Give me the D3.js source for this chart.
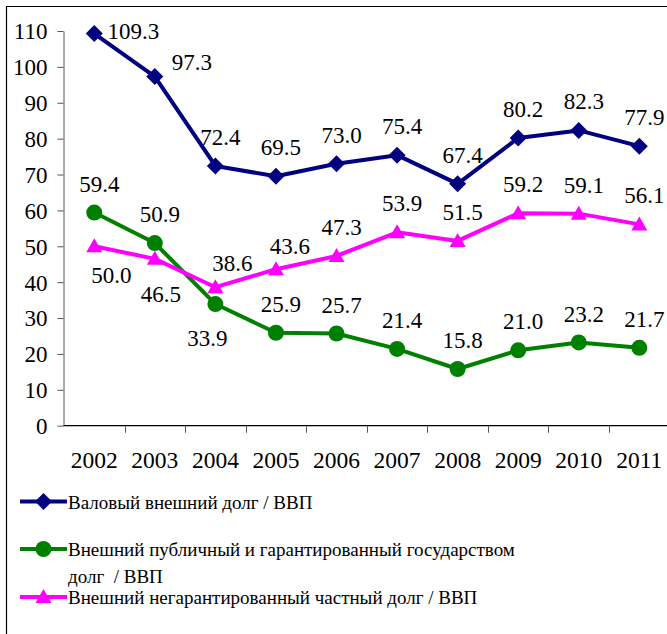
<!DOCTYPE html>
<html>
<head>
<meta charset="utf-8">
<script src="https://cdn.jsdelivr.net/npm/d3@7"></script>
</head>
<body style="margin:0">
<script>
const years = ['2002', '2003', '2004', '2005', '2006', '2007', '2008', '2009', '2010', '2011']
const grossDebt = [109.3, 97.3, 72.4, 69.5, 73.0, 75.4, 67.4, 80.2, 82.3, 77.9]
const publicDebt = [59.4, 50.9, 33.9, 25.9, 25.7, 21.4, 15.8, 21.0, 23.2, 21.7]
const privateDebt = [50.0, 46.5, 38.6, 43.6, 47.3, 53.9, 51.5, 59.2, 59.1, 56.1]
const yTicks = [0, 10, 20, 30, 40, 50, 60, 70, 80, 90, 100, 110]
const seriesNames = [
  'Валовый внешний долг / ВВП',
  'Внешний публичный и гарантированный государством',
  'Внешний негарантированный частный долг / ВВП'
]

const FONT = "'Liberation Serif'"
const width = 667
const height = 634
const axisX = 63.5

const svg = d3.select('body')
  .append('svg')
  .attr('width', width)
  .attr('height', height)
  .style('display', 'block')

// outer frame (cropped on the right/bottom)
svg.append('path')
  .attr('d', 'M 667 6.5 H 6.5 V 634')
  .attr('fill', 'none')
  .attr('stroke', '#000')
  .attr('stroke-width', 1.2)

const xScale = d3.scaleBand()
  .domain(years)
  .range([64, 669.6])

const yScale = d3.scaleLinear()
  .domain([0, 110])
  .range([425.7, 31])

// y axis
const yAxis = d3.axisLeft(yScale).tickValues(yTicks).tickSize(6).tickPadding(10).tickSizeOuter(0)
const yG = svg.append('g')
  .attr('transform', `translate(${axisX},0)`)
  .call(yAxis)
  .attr('font-family', null)
yG.select('.domain').attr('stroke', '#555').attr('stroke-width', 1)
yG.selectAll('.tick line').attr('stroke', '#555')
yG.selectAll('text')
  .attr('font-size', 23)
  .style('font-family', FONT)
  .attr('fill', '#000')
  .attr('dy', '0.34em')

// x axis
const xG = svg.append('g')
  .attr('transform', `translate(0,${yScale(0)})`)
xG.append('line')
  .attr('x1', axisX)
  .attr('x2', width)
  .attr('stroke', '#000')
  .attr('stroke-width', 1.2)
xG.selectAll('.xtick')
  .data(years.slice(1))
  .join('line')
  .attr('x1', d => Math.round(xScale(d)) + 0.5)
  .attr('x2', d => Math.round(xScale(d)) + 0.5)
  .attr('y1', 0)
  .attr('y2', 7)
  .attr('stroke', '#555')
xG.selectAll('.xlabel')
  .data(years)
  .join('text')
  .attr('x', d => xScale(d) + xScale.bandwidth() / 2)
  .attr('y', 42)
  .attr('text-anchor', 'middle')
  .attr('font-size', 23.5)
  .style('font-family', FONT)
  .text(d => d)

const cx = (d, i) => xScale(years[i]) + xScale.bandwidth() / 2

const series = [
  { values: grossDebt, color: '#000080', marker: 'diamond' },
  { values: publicDebt, color: '#008000', marker: 'circle' },
  { values: privateDebt, color: '#FF00FF', marker: 'triangle' }
]

// label placement: default sits above the point, a few are moved
const labelShift = {
  '0-0': [39, -3], '0-1': [37, -15],
  '1-2': [-8, 34],
  '2-0': [17, 29], '2-1': [6, 35], '2-2': [17, -24], '2-3': [14, -23]
}

function markerPath(type) {
  if (type === 'diamond') return 'M 0 -8.5 L 8.5 0 L 0 8.5 L -8.5 0 Z'
  if (type === 'triangle') return 'M 0 -8 L 8 6 L -8 6 Z'
  return null
}

function drawMarker(g, type, color) {
  if (type === 'circle') {
    g.append('circle').attr('r', 8).attr('fill', color)
  } else {
    g.append('path').attr('d', markerPath(type)).attr('fill', color)
  }
}

const line = d3.line()
  .x(cx)
  .y(d => yScale(d))

series.forEach(s => {
  svg.append('path')
    .datum(s.values)
    .attr('d', line)
    .attr('fill', 'none')
    .attr('stroke', s.color)
    .attr('stroke-width', 4)
    .attr('stroke-linejoin', 'round')

  s.values.forEach((v, i) => {
    const g = svg.append('g')
      .attr('transform', `translate(${cx(v, i)},${yScale(v)})`)
    drawMarker(g, s.marker, s.color)
  })
})

series.forEach((s, si) => {
  svg.append('g')
    .selectAll('text')
    .data(s.values)
    .join('text')
    .attr('x', (d, i) => cx(d, i) + (labelShift[`${si}-${i}`] || [5, -29])[0])
    .attr('y', (d, i) => yScale(d) + (labelShift[`${si}-${i}`] || [5, -29])[1])
    .attr('dy', '0.35em')
    .attr('text-anchor', 'middle')
    .attr('font-size', 23)
    .style('font-family', FONT)
    .attr('fill', '#000')
    .text(d => d.toFixed(1))
})

// legend
const legendRows = [
  { y: 501.5, lines: [seriesNames[0]] },
  { y: 549, lines: [seriesNames[1], 'долг  / ВВП'] },
  { y: 597, lines: [seriesNames[2]] }
]

legendRows.forEach((row, i) => {
  const s = series[i]
  const lg = svg.append('g').attr('transform', `translate(0,${row.y})`)
  lg.append('line')
    .attr('x1', 20)
    .attr('x2', 67)
    .attr('stroke', s.color)
    .attr('stroke-width', 4)
  const m = lg.append('g').attr('transform', 'translate(43.5,0)')
  drawMarker(m, s.marker, s.color)
  row.lines.forEach((t, j) => {
    lg.append('text')
      .attr('x', 68)
      .attr('y', 7 + j * 27)
      .attr('font-size', 19)
      .style('font-family', FONT)
      .style('white-space', 'pre')
      .attr('fill', '#000')
      .text(t)
  })
})
</script>
</body>
</html>
